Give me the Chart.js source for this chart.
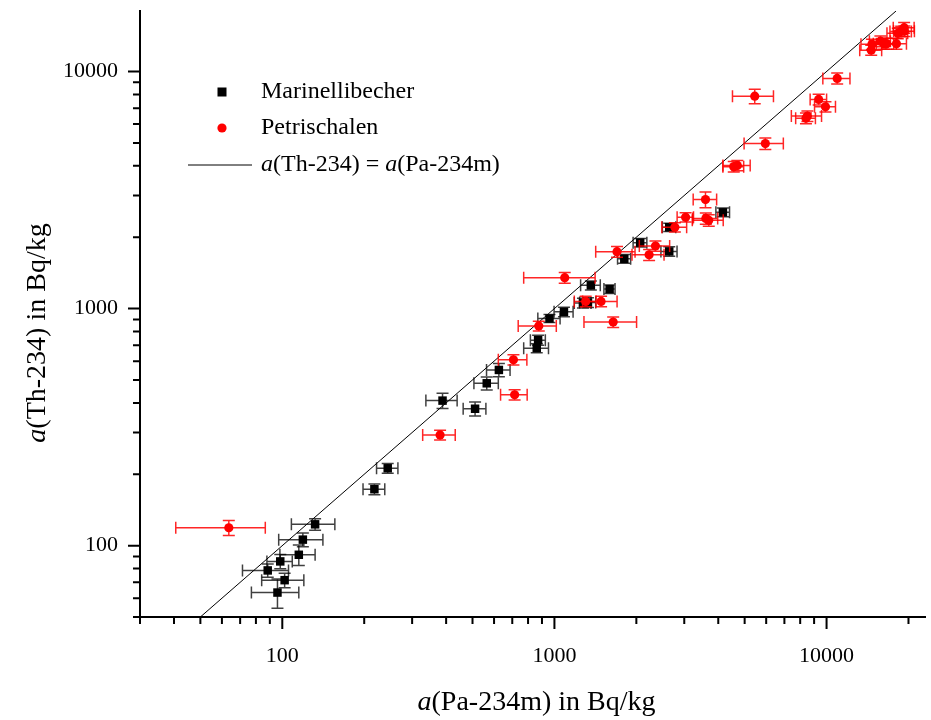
<!DOCTYPE html>
<html>
<head>
<meta charset="utf-8">
<script src="https://cdn.jsdelivr.net/npm/chart.js@4.4.1/dist/chart.umd.min.js"></script>
<style>
  html, body { margin: 0; padding: 0; background: #fff; }
  #wrap { width: 931px; height: 720px; position: relative; }
</style>
</head>
<body>
<div id="wrap"><canvas id="chart"></canvas></div>
<script>
// Marinellibecher (schwarze Quadrate)
const marX = [244, 218, 132, 119, 115, 98.3, 88.4, 102, 96, 388, 511, 564, 625, 861, 871, 959, 1084, 1361, 1595, 1273, 1328, 1806, 2066, 2642, 2642, 4160];
const marY = [212, 173, 123, 106, 91.5, 85.8, 78.6, 71.5, 63.4, 409, 378, 484, 551, 681, 736, 908, 969, 1253, 1208, 1055, 1060, 1622, 1897, 1742, 2203, 2547];
const marXErr = [22, 20, 24, 22, 17, 10.5, 17, 18, 19, 51, 49, 58, 62, 90, 55, 90, 87, 113, 75, 90, 90, 100, 120, 180, 150, 240];
const marYErr = [10, 9, 7, 7, 9, 6, 5, 5, 9, 30, 26, 30, 35, 30, 35, 35, 45, 55, 50, 50, 50, 70, 80, 80, 90, 110];

// Petrischalen (rote Kreise)
const petX = [63.6, 380, 707, 714, 876, 1091, 1644, 1484, 1303, 1698, 2351, 2228, 2771, 3034, 3590, 3691, 3600, 4700, 4560, 5957, 8504, 8400, 9353, 9908, 5446, 10940, 14590, 14680, 15770, 16250, 16650, 18060, 18270, 18800, 19280, 19330];
const petY = [119, 293, 608, 433, 845, 1350, 877, 1072, 1072, 1738, 1836, 1687, 2203, 2427, 2884, 2356, 2400, 4010, 3970, 4965, 6487, 6350, 7623, 7100, 7870, 9350, 12300, 13020, 13430, 13110, 13110, 13110, 14490, 14760, 15310, 14800];
const petXErr = [23, 52, 85, 80, 140, 320, 360, 215, 120, 280, 300, 300, 290, 210, 355, 480, 380, 540, 400, 980, 1080, 700, 650, 875, 935, 1250, 1350, 1300, 1400, 1400, 1400, 1600, 1600, 1700, 1700, 1700];
const petYErr = [8.7, 14, 30, 22, 40, 70, 45, 55, 55, 90, 90, 90, 100, 110, 220, 130, 130, 200, 200, 280, 330, 330, 400, 350, 555, 500, 600, 650, 700, 700, 700, 700, 750, 750, 800, 750];

// Gerade a(Th-234) = a(Pa-234m)
const lineEnds = [50, 18000];

const xRange = [30, 23000];
const yRange = [50, 18000];

const xTitle = 'a(Pa-234m) in Bq/kg';
const yTitle = 'a(Th-234) in Bq/kg';

const FONT = '"Liberation Serif", "DejaVu Serif", serif';

function toPoints(xs, ys) {
  return xs.map((x, i) => ({ x: x, y: ys[i] }));
}

// Text mit kursivem "a" vor "(" zeichnen
function richText(ctx, text, x, y, size, align) {
  const parts = text.split(/(a(?=\())/).filter(s => s.length);
  const fontOf = p => (p === 'a' ? 'italic ' : '') + size + 'px ' + FONT;
  let total = 0;
  parts.forEach(p => { ctx.font = fontOf(p); total += ctx.measureText(p).width; });
  let cx = align === 'center' ? x - total / 2 : x;
  ctx.textAlign = 'left';
  ctx.textBaseline = 'middle';
  parts.forEach(p => {
    ctx.font = fontOf(p);
    ctx.fillText(p, cx, y);
    cx += ctx.measureText(p).width;
  });
}

function isDecadeStep(v) {
  const s = v / Math.pow(10, Math.floor(Math.log10(v) + 1e-9));
  return Math.abs(s - Math.round(s)) < 1e-6;
}
function isPow10(v) {
  const l = Math.log10(v);
  return Math.abs(l - Math.round(l)) < 1e-6;
}

// Fehlerbalken pro Datensatz
const errorBars = {
  id: 'errorBars',
  beforeDatasetDraw(chart, args) {
    const ds = chart.data.datasets[args.index];
    if (!ds.errX) return;
    const ctx = chart.ctx;
    const xs = chart.scales.x, ys = chart.scales.y;
    const cap = 6;
    ctx.save();
    ctx.strokeStyle = ds.errColor;
    ctx.lineWidth = 1.5;
    ds.data.forEach((p, i) => {
      const px = xs.getPixelForValue(p.x), py = ys.getPixelForValue(p.y);
      const x0 = xs.getPixelForValue(p.x - ds.errX[i]), x1 = xs.getPixelForValue(p.x + ds.errX[i]);
      const y0 = ys.getPixelForValue(p.y - ds.errY[i]), y1 = ys.getPixelForValue(p.y + ds.errY[i]);
      ctx.beginPath();
      ctx.moveTo(x0, py); ctx.lineTo(x1, py);
      ctx.moveTo(x0, py - cap); ctx.lineTo(x0, py + cap);
      ctx.moveTo(x1, py - cap); ctx.lineTo(x1, py + cap);
      ctx.moveTo(px, y0); ctx.lineTo(px, y1);
      ctx.moveTo(px - cap, y0); ctx.lineTo(px + cap, y0);
      ctx.moveTo(px - cap, y1); ctx.lineTo(px + cap, y1);
      ctx.stroke();
    });
    ctx.restore();
  }
};

// Achsenstriche, Achsentitel und Legende
const decorations = {
  id: 'decorations',
  afterDraw(chart) {
    const ctx = chart.ctx;
    const area = chart.chartArea;
    const xs = chart.scales.x, ys = chart.scales.y;
    ctx.save();
    ctx.strokeStyle = '#000';
    ctx.lineWidth = 2;
    ctx.beginPath();
    xs.ticks.forEach(t => {
      if (!isDecadeStep(t.value)) return;
      const px = xs.getPixelForValue(t.value);
      const len = isPow10(t.value) ? 12 : 7;
      ctx.moveTo(px, area.bottom); ctx.lineTo(px, area.bottom + len);
    });
    ys.ticks.forEach(t => {
      if (!isDecadeStep(t.value)) return;
      const py = ys.getPixelForValue(t.value);
      const len = isPow10(t.value) ? 12 : 7;
      ctx.moveTo(area.left, py); ctx.lineTo(area.left - len, py);
    });
    ctx.stroke();

    ctx.fillStyle = '#000';
    richText(ctx, xTitle, (area.left + area.right) / 2 + 4, 703, 28, 'center');
    ctx.save();
    ctx.translate(38, 333);
    ctx.rotate(-Math.PI / 2);
    richText(ctx, yTitle, 0, 0, 28, 'center');
    ctx.restore();

    // Legende
    const lx = 222, tx = 261;
    const rows = [92, 128, 165];
    const dsMar = chart.data.datasets[1], dsPet = chart.data.datasets[0], dsLine = chart.data.datasets[2];
    ctx.fillStyle = '#000';
    ctx.fillRect(lx - 4.5, rows[0] - 4.5, 9, 9);
    ctx.fillStyle = '#ff0000';
    ctx.beginPath();
    ctx.arc(lx, rows[1], 4.6, 0, Math.PI * 2);
    ctx.fill();
    ctx.strokeStyle = '#000';
    ctx.lineWidth = 1;
    ctx.beginPath();
    ctx.moveTo(188, rows[2]); ctx.lineTo(252, rows[2]);
    ctx.stroke();
    ctx.fillStyle = '#000';
    richText(ctx, dsMar.label, tx, rows[0], 24, 'left');
    richText(ctx, dsPet.label, tx, rows[1], 24, 'left');
    richText(ctx, dsLine.label, tx, rows[2], 24, 'left');
    ctx.restore();
  }
};

const tickFont = { family: FONT, size: 22 };

new Chart(document.getElementById('chart'), {
  type: 'scatter',
  data: {
    datasets: [{
      label: 'Petrischalen',
      data: toPoints(petX, petY),
      errX: petXErr,
      errY: petYErr,
      errColor: 'rgba(255, 0, 0, 0.85)',
      pointStyle: 'circle',
      pointRadius: 4.6,
      backgroundColor: '#ff0000',
      borderWidth: 0
    }, {
      label: 'Marinellibecher',
      data: toPoints(marX, marY),
      errX: marXErr,
      errY: marYErr,
      errColor: 'rgba(0, 0, 0, 0.75)',
      pointStyle: 'rect',
      pointRadius: 6,
      backgroundColor: '#000',
      borderWidth: 0
    }, {
      label: 'a(Th-234) = a(Pa-234m)',
      data: toPoints(lineEnds, lineEnds),
      showLine: true,
      borderColor: '#000',
      borderWidth: 1,
      pointRadius: 0
    }]
  },
  options: {
    responsive: true,
    maintainAspectRatio: false,
    animation: false,
    layout: { padding: { top: 11, right: -6, left: 0, bottom: 0 } },
    plugins: {
      legend: { display: false },
      tooltip: { enabled: false }
    },
    scales: {
      x: {
        type: 'logarithmic',
        min: xRange[0],
        max: xRange[1],
        afterFit: s => { s.height = 103; s.paddingLeft = 0; s.paddingRight = 0; },
        grid: { display: false, drawTicks: false },
        border: { display: true, color: '#000', width: 2 },
        ticks: {
          autoSkip: false,
          maxRotation: 0,
          padding: 26,
          color: '#000',
          font: tickFont,
          callback: v => (isPow10(v) ? String(Math.round(v)) : '')
        }
      },
      y: {
        type: 'logarithmic',
        min: yRange[0],
        max: yRange[1],
        afterFit: s => { s.width = 140; s.paddingTop = 0; s.paddingBottom = 0; },
        grid: { display: false, drawTicks: false },
        border: { display: true, color: '#000', width: 2 },
        ticks: {
          autoSkip: false,
          padding: 22,
          color: '#000',
          font: tickFont,
          callback: v => (isPow10(v) ? String(Math.round(v)) : '')
        }
      }
    }
  },
  plugins: [errorBars, decorations]
});
</script>
</body>
</html>
